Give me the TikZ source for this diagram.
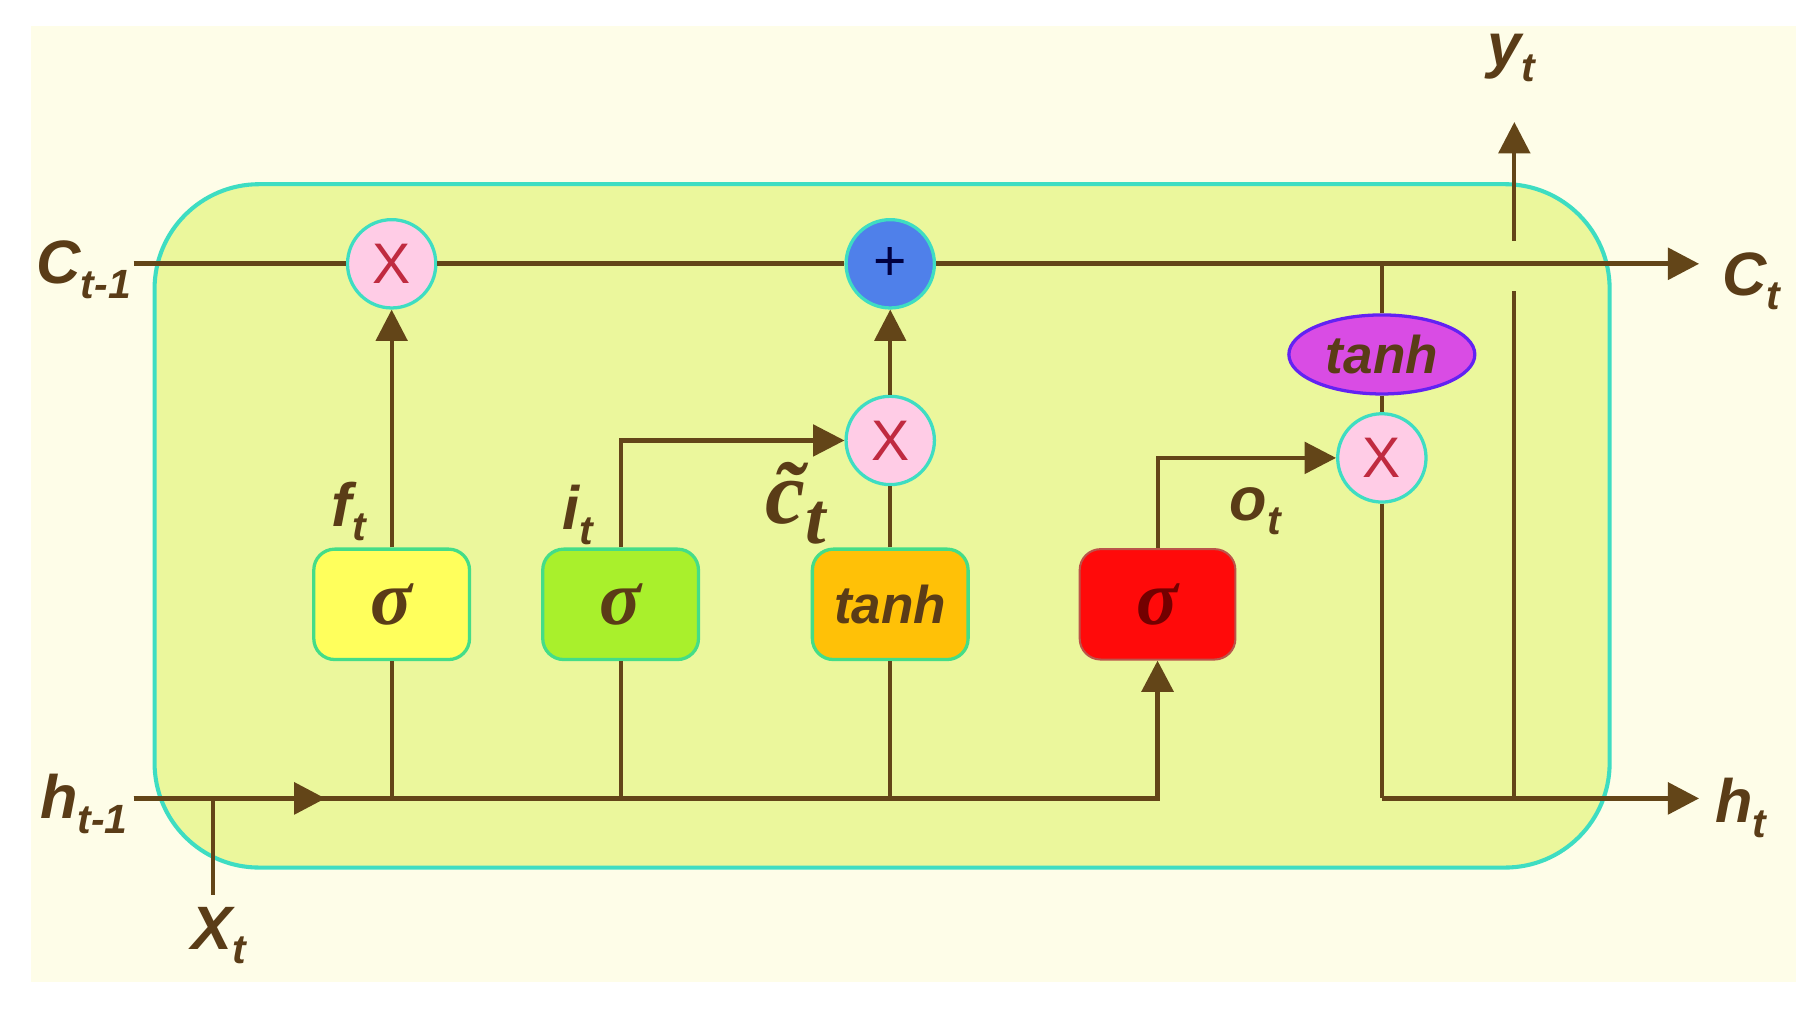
\documentclass[tikz,border=0pt]{standalone}
\usepackage{fontspec}
\setmainfont{Liberation Sans}
\newfontfamily\tildefont{Liberation Serif}
\usetikzlibrary{arrows.meta,shapes.geometric,calc}

\definecolor{paper}{HTML}{FEFDE8}
\definecolor{cellfill}{HTML}{EBF79C}
\definecolor{cellline}{HTML}{3EDDC2}
\definecolor{wirebrown}{HTML}{634518}
\definecolor{labelbrown}{HTML}{5A3C17}
\definecolor{pinkop}{HTML}{FFCCE6}
\definecolor{blueop}{HTML}{4F80EA}
\definecolor{crossred}{HTML}{C02A40}
\definecolor{magentaop}{HTML}{D94CE4}
\definecolor{forgetfill}{HTML}{FFFF5C}
\definecolor{inputfill}{HTML}{A9F02C}
\definecolor{candfill}{HTML}{FFC107}
\definecolor{outputfill}{HTML}{FF0A0A}
\definecolor{gateline}{HTML}{44DD88}

\newcommand\lsub[1]{\raisebox{-0.45ex}{\fontsize{10}{10}\selectfont #1}}

\begin{document}
\begin{tikzpicture}[op/.style={circle,minimum size=7.6mm,inner sep=0pt,draw=cellline,line width=0.8pt,
                                 fill=pinkop,text=crossred,font=\fontsize{14}{14}\selectfont},
                    add op/.style={op,fill=blueop,text=blue!25!black},
                    gate/.style={rectangle,rounded corners=1.8mm,minimum width=13.4mm,minimum height=9.5mm,
                                 draw=gateline,line width=0.8pt,text=labelbrown,
                                 font=\tildefont\fontsize{19}{19}\selectfont\bfseries\itshape},
                    forget gate/.style={gate,fill=forgetfill},
                    input gate/.style={gate,fill=inputfill},
                    candidate gate/.style={gate,fill=candfill,font=\fontsize{13}{13}\selectfont\bfseries\itshape},
                    output gate/.style={gate,fill=outputfill,draw=cellline!35!outputfill,line width=0.5pt,
                                        text=red!45!black},
                    squash/.style={ellipse,minimum width=16mm,minimum height=6.8mm,inner sep=0pt,
                                   draw=blue!55!magentaop,line width=0.8pt,fill=magentaop,text=labelbrown,
                                   font=\fontsize{13}{13}\selectfont\bfseries\itshape},
                    wire/.style={draw=wirebrown,line width=1pt},
                    state/.style={wire,line width=1.3pt},
                    flow/.style={-{Triangle[length=2.7mm,width=2.7mm]}},
                    tag/.style={text=labelbrown,inner sep=0pt,font=\fontsize{15}{15}\selectfont\bfseries\itshape}]
  \useasboundingbox (0,0) rectangle (15.6,-8.682);
  \fill[white] (0,0) rectangle (15.6,-8.682);
  \fill[paper] (0.27,-0.22) rectangle (15.45,-8.45);

  % the cell
  \node[draw=cellline,line width=1pt,fill=cellfill,rounded corners=9mm,
        minimum width=12.52cm,minimum height=5.88cm] (cell) at (7.59,-4.525) {};

  % gates
  \node[forget gate] (fg) at (3.37,-5.20) {σ};
  \node[input gate] (ig) at (5.34,-5.20) {σ};
  \node[candidate gate] (cg) at (7.66,-5.20) {tanh};
  \node[output gate] (og) at (9.96,-5.20) {σ};

  % pointwise operations
  \node[op] (mulf) at (3.37,-2.27) {X};
  \node[add op] (add) at (7.66,-2.27) {+};
  \node[op] (muli) at (7.66,-3.79) {X};
  \node[op] (mulo) at (11.89,-3.94) {X};
  \node[squash] (tanhc) at (11.89,-3.05) {tanh};

  % free ends
  \coordinate (cin) at (1.15,-2.27);
  \coordinate (cout) at (14.62,-2.27);
  \coordinate (hin) at (1.15,-6.87);
  \coordinate (harrow) at (2.80,-6.87);
  \coordinate (hout) at (14.62,-6.87);
  \coordinate (xin) at (1.83,-7.70);
  \coordinate (ybase) at (13.03,-6.87);
  \coordinate (ybelow) at (13.03,-2.50);
  \coordinate (yabove) at (13.03,-2.07);
  \coordinate (ytip) at (13.03,-1.05);

  % cell state
  \draw[state] (cin) -- (mulf.west);
  \draw[state] (mulf.east) -- (add.west);
  \draw[state,flow] (add.east) -- (cout);

  % hidden state and input
  \draw[state,flow] (hin) -| (og.south);
  \draw[state,flow] (hin) -- (harrow);
  \draw[wire] (xin) -- (xin |- hin);
  \foreach \g in {fg,ig,cg}
    \draw[wire] (\g.south) -- (\g.south |- hin);

  % gate outputs
  \draw[wire,flow] (fg.north) -- (mulf.south);
  \draw[wire,flow] (ig.north) |- (muli.west);
  \draw[wire] (cg.north) -- (muli.south);
  \draw[wire,flow] (muli.north) -- (add.south);
  \draw[wire,flow] (og.north) |- (mulo.west);

  % output
  \draw[wire] (tanhc.north) -- (tanhc.north |- cout);
  \draw[wire] (tanhc.south) -- (mulo.north);
  \draw[wire] (mulo.south) -- (mulo.south |- hout);
  \draw[state,flow] (mulo.south |- hout) -- (hout);
  \draw[wire] (ybase) -- (ybelow);
  \draw[wire,flow] (yabove) -- (ytip);

  % labels
  \node[tag] (cprev) at (0.72,-2.32) {C\lsub{t-1}};
  \node[tag] (cnext) at (15.07,-2.42) {C\lsub{t}};
  \node[tag] (hprev) at (0.72,-6.92) {h\lsub{t-1}};
  \node[tag] (hnext) at (14.98,-6.95) {h\lsub{t}};
  \node[tag] (xt) at (1.88,-8.05) {X\lsub{t}};
  \node[tag] (yt) at (13.00,-0.50) {y\lsub{t}};
  \node[tag] (ft) at (3.00,-4.40) {f\lsub{t}};
  \node[tag] (it) at (4.97,-4.43) {i\lsub{t}};
  \node[tag] (ot) at (10.80,-4.40) {o\lsub{t}};
  \node[tag,font=\tildefont\fontsize{22}{22}\selectfont\bfseries\itshape] (ct) at (6.85,-4.33)
       {\~{c}\raisebox{-0.5ex}{\fontsize{18}{18}\selectfont t}};
\end{tikzpicture}
\end{document}
